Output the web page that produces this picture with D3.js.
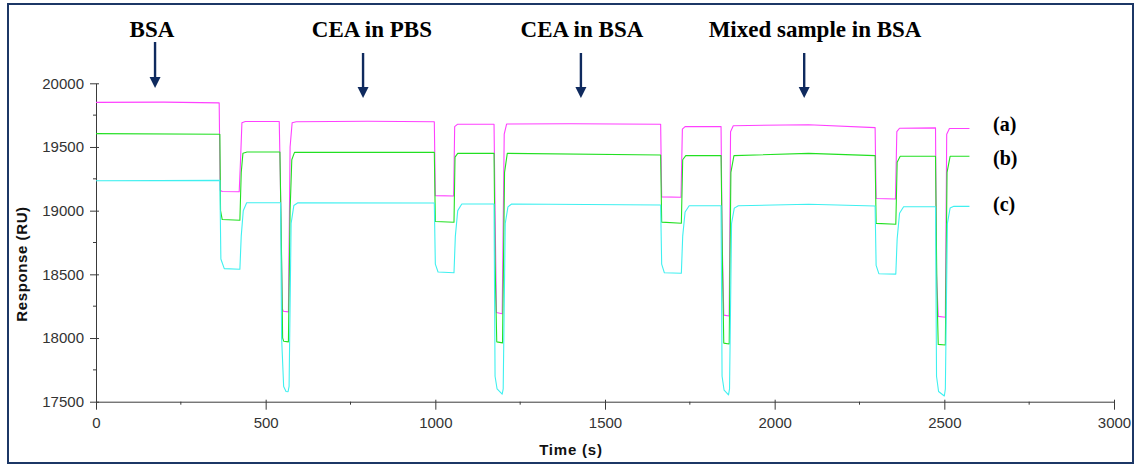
<!DOCTYPE html>
<html>
<head>
<meta charset="utf-8">
<script src="https://cdn.jsdelivr.net/npm/d3@7"></script>
<style>
  html, body { margin: 0; padding: 0; background: #fff; }
  svg { display: block; }
</style>
</head>
<body>
<svg id="chart" width="1135" height="466"></svg>
<script>
// SPR sensorgram: response (RU) vs time (s) for three flow channels

const xTicks = [0, 500, 1000, 1500, 2000, 2500, 3000];
const yTicks = [17500, 18000, 18500, 19000, 19500, 20000];

// channel (a)
const seriesA = [
  [0,19850],[200,19852],[363,19846],[366,19160],[372,19150],[422,19148],[426,19400],[430,19690],
  [440,19700],[540,19700],[543,19280],[549,18230],[552,18210],[567,18205],[572,19500],[578,19690],
  [590,19698],[800,19702],[997,19698],[1000,19118],[1054,19115],[1057,19660],[1065,19678],
  [1173,19678],[1176,19000],[1180,18200],[1197,18190],[1203,19600],[1210,19680],[1400,19682],
  [1664,19678],[1667,19108],[1724,19105],[1728,19640],[1736,19660],[1842,19660],[1845,18800],
  [1850,18180],[1866,18173],[1870,19620],[1878,19667],[2100,19675],[2296,19652],[2299,19095],
  [2356,19092],[2360,19620],[2368,19647],[2474,19650],[2477,18500],[2482,18170],[2503,18163],
  [2507,19600],[2515,19645],[2574,19645]
];

// channel (b)
const seriesB = [
  [0,19605],[365,19600],[367,19000],[372,18930],[424,18925],[428,19300],[433,19450],[445,19460],
  [542,19460],[546,18800],[550,18000],[553,17975],[567,17970],[572,19000],[577,19400],[585,19458],
  [997,19458],[1000,18915],[1055,18909],[1058,19420],[1066,19450],[1173,19450],[1176,18600],
  [1181,17970],[1198,17962],[1204,19300],[1212,19450],[1664,19437],[1667,18910],[1725,18901],
  [1729,19400],[1738,19432],[1842,19432],[1846,18600],[1850,17960],[1866,17953],[1871,19300],
  [1880,19432],[2100,19450],[2296,19432],[2299,18900],[2357,18893],[2361,19380],[2370,19427],
  [2474,19427],[2478,18400],[2482,17950],[2503,17945],[2508,19300],[2517,19427],[2574,19427]
];

// channel (c)
const seriesC = [
  [0,19235],[365,19238],[368,18620],[378,18545],[424,18540],[428,18800],[434,19000],[444,19062],
  [544,19062],[547,18000],[553,17620],[560,17580],[566,17578],[569,17620],[575,18900],[583,19040],
  [595,19062],[997,19060],[1000,18580],[1008,18518],[1055,18513],[1059,18800],[1066,19000],
  [1078,19052],[1173,19052],[1176,17700],[1182,17600],[1197,17560],[1200,17600],[1206,18900],
  [1214,19030],[1225,19052],[1664,19044],[1667,18580],[1675,18512],[1725,18508],[1729,18800],
  [1736,18990],[1748,19039],[1842,19039],[1845,17700],[1851,17590],[1864,17553],[1867,17600],
  [1873,18900],[1881,19020],[1893,19039],[2100,19050],[2296,19036],[2299,18570],[2307,18505],
  [2357,18502],[2361,18780],[2368,18980],[2380,19031],[2474,19031],[2477,17700],[2483,17580],
  [2500,17545],[2503,17600],[2509,18900],[2517,19020],[2528,19034],[2574,19034]
];

const seriesNames = ["(a)", "(b)", "(c)"];
const seriesColors = ["#ff40ff", "#22e022", "#3ff0f0"];

// injection annotations
const injectLabels = ["BSA", "CEA in PBS", "CEA in BSA", "Mixed sample in BSA"];
const injectLabelTimes = [165, 813, 1432, 2119];
const injectArrowTimes = [174, 787, 1429, 2087];

const svg = d3.select("#chart");

// outer frame
svg.append("rect")
  .attr("x", 8).attr("y", 4).attr("width", 1125).attr("height", 459)
  .attr("fill", "none").attr("stroke", "#1c3766").attr("stroke-width", 2);

const x = d3.scaleLinear().domain([0, 3000]).range([96, 1114]);
const y = d3.scaleLinear().domain([17500, 20000]).range([401.7, 83.3]);

const axisColor = "#3a3a3a";
const labelFont = "'Liberation Sans', Arial, sans-serif";
const serifFont = "'Liberation Serif', 'Times New Roman', serif";

// y axis
const yAxis = svg.append("g").attr("transform", `translate(${x(0)},0)`)
  .call(d3.axisLeft(y).tickValues(yTicks).tickFormat(d3.format("d")).tickSizeInner(6).tickSizeOuter(0).tickPadding(6));
yAxis.select(".domain").attr("stroke", axisColor);
yAxis.selectAll(".tick line").attr("stroke", axisColor).attr("x2", 3).attr("x1", -6);
yAxis.selectAll(".tick text").attr("fill", "#333").style("font-family", labelFont).style("font-size", "15px");

// y minor ticks
svg.append("g").selectAll("line")
  .data(d3.range(17750, 20000, 500))
  .join("line")
  .attr("x1", x(0) - 3).attr("x2", x(0))
  .attr("y1", d => y(d)).attr("y2", d => y(d))
  .attr("stroke", axisColor);

// x axis
const xAxis = svg.append("g").attr("transform", `translate(0,${y(17500)})`)
  .call(d3.axisBottom(x).tickValues(xTicks).tickFormat(d3.format("d")).tickSizeInner(8).tickSizeOuter(0).tickPadding(8));
xAxis.select(".domain").attr("stroke", axisColor);
xAxis.selectAll(".tick line").attr("stroke", axisColor).attr("y1", -2).attr("y2", 8);
xAxis.selectAll(".tick text").attr("fill", "#333").style("font-family", labelFont).style("font-size", "15px");

// x minor ticks
svg.append("g").selectAll("line")
  .data(d3.range(250, 3000, 500))
  .join("line")
  .attr("y1", y(17500)).attr("y2", y(17500) + 3)
  .attr("x1", d => x(d)).attr("x2", d => x(d))
  .attr("stroke", axisColor);

// axis titles
svg.append("text")
  .attr("transform", "translate(27,264) rotate(-90)")
  .attr("text-anchor", "middle")
  .style("font-family", labelFont).style("font-size", "15px").style("font-weight", "bold")
  .style("letter-spacing", "0.6px")
  .attr("fill", "#111")
  .text("Response (RU)");

svg.append("text")
  .attr("x", 571).attr("y", 455)
  .attr("text-anchor", "middle")
  .style("font-family", labelFont).style("font-size", "15px").style("font-weight", "bold")
  .style("letter-spacing", "0.8px")
  .attr("fill", "#111")
  .text("Time (s)");

// sensorgram traces
const line = d3.line().x(d => x(d[0])).y(d => y(d[1]));
[seriesA, seriesB, seriesC].forEach((s, i) => {
  svg.append("path")
    .datum(s)
    .attr("d", line)
    .attr("fill", "none")
    .attr("stroke", seriesColors[i])
    .attr("stroke-width", 1.1)
    .attr("stroke-linejoin", "round");
});

// channel labels
const channelLabelY = [131, 165, 211];
seriesNames.forEach((n, i) => {
  svg.append("text")
    .attr("x", 993).attr("y", channelLabelY[i])
    .style("font-family", serifFont).style("font-size", "20px").style("font-weight", "bold")
    .attr("fill", "#000")
    .text(n);
});

// injection labels and arrows
const arrowColor = "#0f2a5e";
injectLabels.forEach((t, i) => {
  svg.append("text")
    .attr("x", x(injectLabelTimes[i])).attr("y", 37)
    .attr("text-anchor", "middle")
    .style("font-family", serifFont).style("font-size", "23px").style("font-weight", "bold")
    .attr("fill", "#000")
    .text(t);
  const ax = x(injectArrowTimes[i]);
  const top = i === 0 ? 42 : 53;
  const tip = i === 0 ? 88 : 98;
  svg.append("line")
    .attr("x1", ax).attr("x2", ax).attr("y1", top).attr("y2", tip - 8)
    .attr("stroke", arrowColor).attr("stroke-width", 2.4);
  svg.append("path")
    .attr("d", `M${ax - 5.5},${tip - 11} L${ax + 5.5},${tip - 11} L${ax},${tip} Z`)
    .attr("fill", arrowColor);
});
</script>
</body>
</html>
